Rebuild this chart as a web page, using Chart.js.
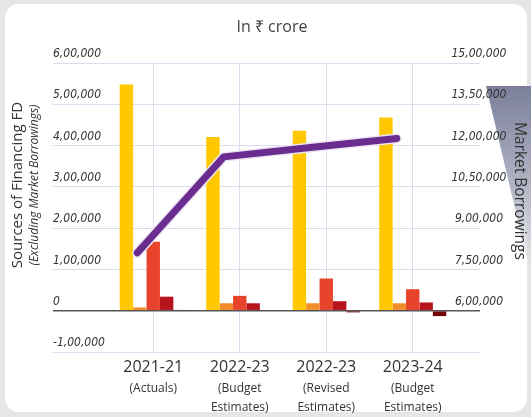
<!DOCTYPE html>
<html><head><meta charset="utf-8">
<script src="https://cdn.jsdelivr.net/npm/chart.js@4.4.0/dist/chart.umd.min.js"></script>
<style>
html,body{margin:0;padding:0;width:531px;height:417px;overflow:hidden;background:#e6e6e6;}
#card{position:absolute;left:5px;top:4px;width:522px;height:408px;background:#fff;border-radius:14px;}
#wedge{position:absolute;left:486px;top:86px;width:45px;height:190px;clip-path:polygon(0 0,100% 0,100% 100%);background:linear-gradient(to bottom,#7b7f99,#b4b7c7 55%,rgba(255,255,255,0.2));}
#wrap{position:absolute;left:0;top:0;width:531px;height:417px;}
</style></head><body>
<div id="card"></div><div id="wedge"></div>
<div id="wrap"><canvas id="c" width="531" height="417"></canvas></div>
<script>
// ---- data ----
const categories = ['2021-21', '2022-23', '2022-23', '2023-24'];
const subLabels = [['(Actuals)'], ['(Budget', 'Estimates)'], ['(Revised', 'Estimates)'], ['(Budget', 'Estimates)']];
const smallSavings = [548000, 421000, 436000, 468000];
const providentFunds = [8000, 18000, 18000, 18000];
const otherReceipts = [167000, 36000, 78000, 52000];
const externalDebt = [34000, 18000, 23000, 20000];
const cashBalance = [2000, 0, -4000, -13000];
const marketBorrowings = [810000, 1159000, 1193000, 1226000];
const leftTicks = {min: -100000, max: 600000, step: 100000};
const rightTicks = {min: 450000, max: 1500000, step: 150000};

// ---- styles ----
const GRID = '#dcdcef';
const ZERO = '#555';
const LINE_SHIFT = -0.185; // fraction of a category width the line is drawn left of centre
const tickFont = {family: '"DejaVu Sans Condensed", "DejaVu Sans"', style: 'italic', size: 12};

function inr(v) {
  const neg = v < 0;
  let s = String(Math.abs(Math.round(v)));
  if (s.length > 3) {
    const last = s.slice(-3);
    const rest = s.slice(0, -3).replace(/\B(?=(\d{2})+(?!\d))/g, ',');
    s = rest + ',' + last;
  }
  return (neg ? '-' : '') + s;
}

const lineShiftPlugin = {
  id: 'lineShift',
  beforeDatasetDraw(chart, args) {
    if (chart.data.datasets[args.index].type !== 'line') return;
    const x = chart.scales.x;
    const w = x.getPixelForValue(1) - x.getPixelForValue(0);
    chart.ctx.save();
    chart.ctx.translate(LINE_SHIFT * w, 0);
  },
  afterDatasetDraw(chart, args) {
    if (chart.data.datasets[args.index].type !== 'line') return;
    chart.ctx.restore();
  }
};

const textPlugin = {
  id: 'texts',
  afterDraw(chart) {
    const ctx = chart.ctx;
    ctx.save();
    ctx.textAlign = 'center';
    ctx.textBaseline = 'middle';
    ctx.fillStyle = '#444';
    ctx.font = '16px "Open Sans"';
    ctx.fillText('In ₹ crore', 272, 27);
    ctx.fillStyle = '#333';
    ctx.save();
    ctx.translate(18, 185);
    ctx.rotate(-Math.PI / 2);
    ctx.font = '15px "Open Sans"';
    ctx.fillText('Sources of Financing FD', 0, 0);
    ctx.restore();
    ctx.save();
    ctx.translate(35, 185);
    ctx.rotate(-Math.PI / 2);
    ctx.font = 'italic 12px "Open Sans"';
    ctx.fillText('(Excluding Market Borrowings)', 0, 0);
    ctx.restore();
    ctx.save();
    ctx.translate(519, 191);
    ctx.rotate(Math.PI / 2);
    ctx.font = '15.5px "Open Sans"';
    ctx.fillText('Market Borrowings', 0, 0);
    ctx.restore();
    ctx.restore();
  }
};

function barSet(label, data, color) {
  return {type: 'bar', label, data, backgroundColor: color, xAxisID: 'x', yAxisID: 'y',
    order: 2, barPercentage: 1.0, categoryPercentage: 0.775};
}

new Chart(document.getElementById('c'), {
  type: 'bar',
  data: {
    labels: categories,
    datasets: [
      barSet('Securities against Small Savings', smallSavings, '#ffc800'),
      barSet('State Provident Funds', providentFunds, '#f28c28'),
      barSet('Other Receipts', otherReceipts, '#e8432b'),
      barSet('External Debt', externalDebt, '#b8141e'),
      barSet('Draw Down of Cash Balance', cashBalance, '#730000'),
      {type: 'line', label: 'Market Borrowings', data: marketBorrowings, xAxisID: 'x', yAxisID: 'y2',
        borderColor: '#6a2d8f', borderWidth: 7, borderCapStyle: 'round', borderJoinStyle: 'round',
        pointRadius: 0, tension: 0, order: 0},
      {type: 'line', label: 'glow', data: marketBorrowings, xAxisID: 'x', yAxisID: 'y2',
        borderColor: 'rgba(236,229,243,1)', borderWidth: 10, borderCapStyle: 'round', borderJoinStyle: 'round',
        pointRadius: 0, tension: 0, order: 1}
    ]
  },
  options: {
    responsive: false,
    animation: false,
    devicePixelRatio: 1,
    events: [],
    layout: {padding: {left: 53, top: 63, right: 0, bottom: 0}},
    plugins: {legend: {display: false}, title: {display: false}, tooltip: {enabled: false}},
    scales: {
      x: {
        type: 'category', position: 'bottom', offset: true,
        grid: {offset: false, color: GRID, drawTicks: false},
        border: {display: false},
        ticks: {font: {family: '"Open Sans"', size: 16}, color: '#333', padding: 6, maxRotation: 0, autoSkip: false},
        afterFit(s) { s.height = 26; }
      },
      x2: {
        type: 'category', labels: subLabels, position: 'bottom', offset: true,
        grid: {display: false, drawTicks: false},
        border: {display: false},
        ticks: {font: {family: '"Open Sans"', size: 12, lineHeight: 1.58}, color: '#333', padding: 1, maxRotation: 0, autoSkip: false},
        afterFit(s) { s.height = 39; }
      },
      y: {
        position: 'left', min: leftTicks.min, max: leftTicks.max,
        ticks: {stepSize: leftTicks.step, callback: v => inr(v), crossAlign: 'far', labelOffset: -9, font: tickFont, color: '#333'},
        grid: {
          color: c => (c.tick && c.tick.value === 0) ? ZERO : GRID,
          lineWidth: c => (c.tick && c.tick.value === 0) ? 1.5 : 1,
          tickLength: 57
        },
        border: {display: false},
        afterFit(s) { s.width = 57; }
      },
      y2: {
        position: 'right', min: rightTicks.min, max: rightTicks.max,
        ticks: {stepSize: rightTicks.step, callback: v => v === rightTicks.min ? '' : inr(v), crossAlign: 'center', labelOffset: -9, padding: -28.5, font: tickFont, color: '#333'},
        grid: {
          drawOnChartArea: false,
          color: c => (c.tick && c.tick.value === 600000) ? ZERO : GRID,
          lineWidth: c => (c.tick && c.tick.value === 600000) ? 1.5 : 1,
          tickLength: 24
        },
        border: {display: false},
        afterFit(s) { s.width = 75; s._computeLabelArea = () => undefined; }
      }
    }
  },
  plugins: [lineShiftPlugin, textPlugin]
});
</script>
</body></html>
